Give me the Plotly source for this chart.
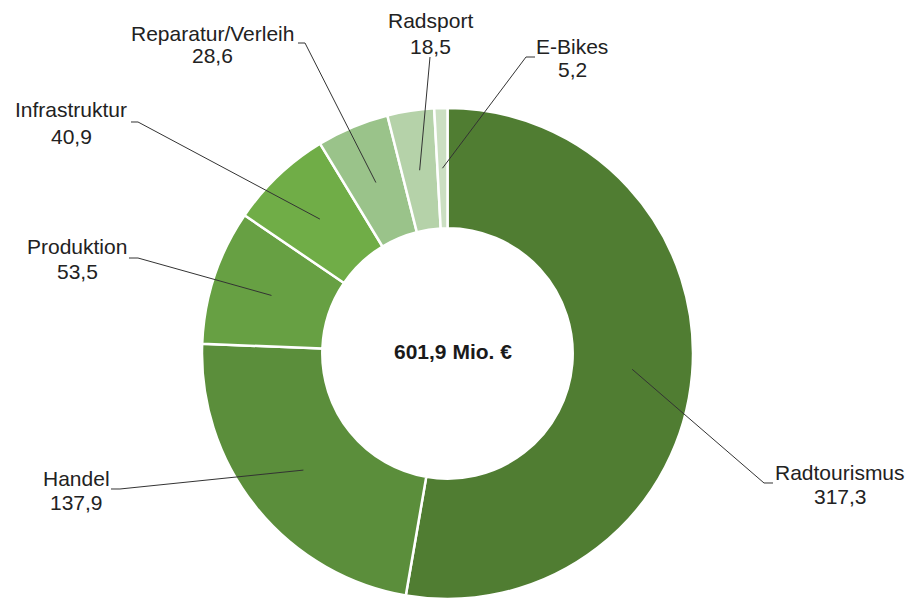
import math
import plotly.graph_objects as go

# Umsatzanteile (Mio. €), im Uhrzeigersinn ab 12 Uhr
categories = ["Radtourismus", "Handel", "Produktion", "Infrastruktur",
              "Reparatur/Verleih", "Radsport", "E-Bikes"]
values = [317.3, 137.9, 53.5, 40.9, 28.6, 18.5, 5.2]
colors = ["#507d32", "#5b8e3b", "#67a043", "#70ad47",
          "#9ac38a", "#b5d2a9", "#cbdfc2"]

W, H = 911, 599
CX, CY, R_OUT = 447.5, 353.5, 245.5
HOLE = 0.51

# label placement (pixels): text centre x, name baseline, value baseline
label_x = [840, 76, 77, 71, 212, 430, 572]
name_base = [479, 485, 253, 117, 40, 28, 53]
value_base = [503, 509, 278, 143, 63, 53, 77]
# leader line: elbow near the label and end of the short horizontal tick
elbow = [(764, 483), (120, 489), (138, 258), (138, 122), (305, 43), (430, 57), (526, 57)]
tick_end = [(773, 483), (111, 489), (129, 258), (131, 122), (298, 43), (430, 57), (535, 57)]


def de(v):
    return f"{v:.1f}".replace(".", ",")


def px(x, y):
    return x / W, 1 - y / H


fig = go.Figure(go.Pie(
    labels=categories, values=values, sort=False, direction="clockwise",
    rotation=0, hole=HOLE, textinfo="none", hoverinfo="label+value",
    marker=dict(colors=colors, line=dict(color="white", width=2.5)),
    domain=dict(x=[(CX - R_OUT) / W, (CX + R_OUT) / W],
                y=[1 - (CY + R_OUT) / H, 1 - (CY - R_OUT) / H]),
    showlegend=False,
))

font = dict(family="Arial, Liberation Sans, sans-serif", size=21, color="#222222")
total = sum(values)
r_mid = R_OUT * (1 + HOLE) / 2
shapes, annotations = [], []
cum = 0.0
for i, v in enumerate(values):
    mid = (cum + v / 2) / total * 2 * math.pi
    cum += v
    ax = CX + r_mid * math.sin(mid)
    ay = CY - r_mid * math.cos(mid)
    pts = [(ax, ay), elbow[i], tick_end[i]]
    path = "M " + " L ".join(f"{px(x, y)[0]:.5f},{px(x, y)[1]:.5f}" for x, y in pts)
    shapes.append(dict(type="path", path=path, xref="paper", yref="paper",
                       line=dict(color="#333333", width=1), layer="above"))
    for txt, base in ((categories[i], name_base[i]), (de(v), value_base[i])):
        x, y = px(label_x[i], base - 7)
        annotations.append(dict(text=txt, x=x, y=y, xref="paper", yref="paper",
                                xanchor="center", yanchor="middle",
                                showarrow=False, font=font))

# total in the centre of the ring
cx, cy = px(453, 351)
annotations.append(dict(text=f"<b>{de(total)} Mio. €</b>", x=cx, y=cy,
                        xref="paper", yref="paper", showarrow=False,
                        xanchor="center", yanchor="middle",
                        font=dict(family="Arial, Liberation Sans, sans-serif",
                                  size=21, color="#1a1a1a")))

fig.update_layout(width=W, height=H, margin=dict(l=0, r=0, t=0, b=0),
                  paper_bgcolor="white", plot_bgcolor="white",
                  shapes=shapes, annotations=annotations)
fig.write_html("out.html")
